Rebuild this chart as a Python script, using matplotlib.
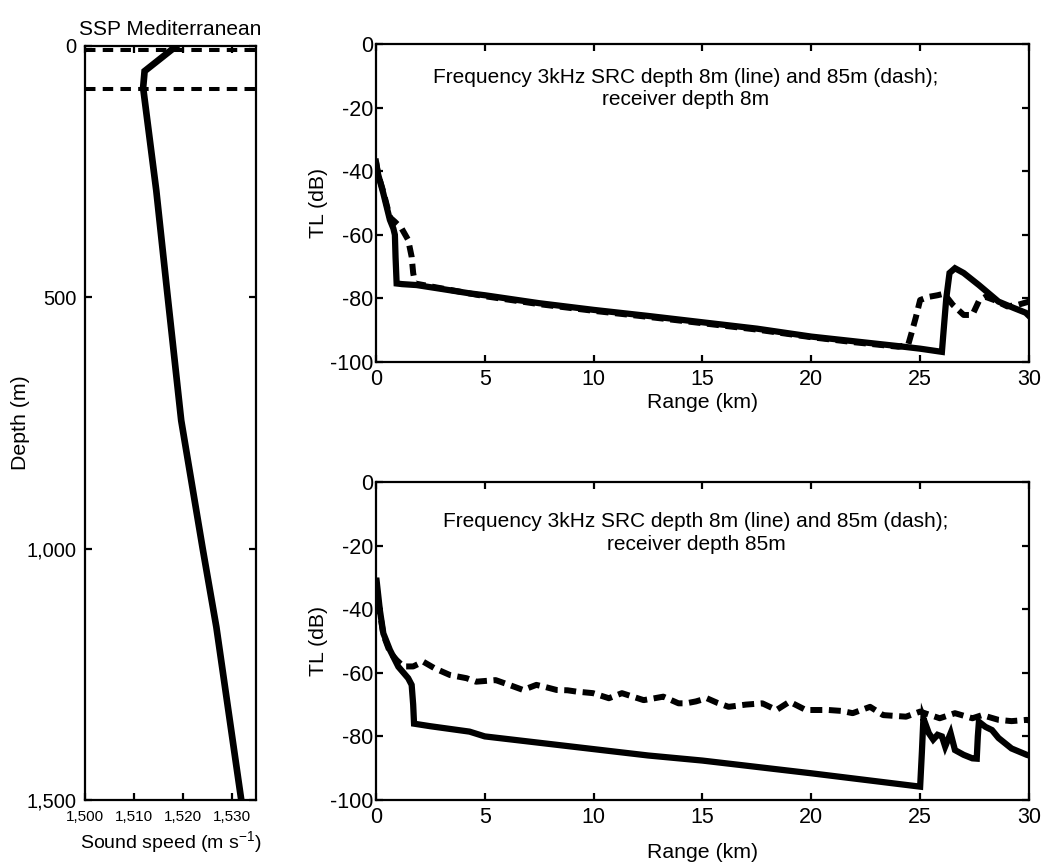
import matplotlib
matplotlib.use("Agg")
import matplotlib.pyplot as plt
from matplotlib.ticker import FuncFormatter

plt.rcParams['font.family'] = ['Liberation Sans', 'DejaVu Sans']
plt.rcParams['axes.unicode_minus'] = False

# Sound speed profile (Mediterranean)
ssp_speed = [1518.7, 1512.2, 1511.9, 1514.6, 1516.8, 1519.7, 1524.1, 1526.9, 1532.0]
ssp_depth = [0, 50, 83, 288, 487, 745, 1000, 1156, 1500]
src_depths = [8, 85]

# TL, receiver depth 8 m
r8_line = [0.0, 0.1, 0.34, 0.64, 0.8, 0.87, 0.9, 0.95, 1.2, 1.87, 3.0, 4.3, 5.0, 7.5, 10.0,
           12.5, 15.0, 17.5, 20.0, 22.0, 24.0, 25.0, 26.0, 26.08, 26.2, 26.35, 26.6, 27.0,
           27.7, 28.6, 29.3, 29.85, 30.0]
tl8_line = [-37, -41, -47, -55.3, -58, -60, -67, -75.3, -75.5, -75.8, -77, -78.4, -79, -81.5,
            -83.6, -85.5, -87.5, -89.5, -92, -93.5, -95, -95.8, -96.8, -90, -80, -72, -70.5,
            -72, -75.8, -81, -83, -84.5, -85.5]
r8_dash = [0.0, 0.1, 0.34, 0.64, 0.87, 1.18, 1.48, 1.64, 1.71, 1.8, 2.5, 5.0, 7.5, 10.0, 12.5,
           15.0, 17.5, 20.0, 22.0, 24.0, 24.45, 24.6, 24.8, 25.0, 25.4, 25.8, 26.1, 26.5, 27.0,
           27.4, 27.7, 28.0, 28.4, 29.0, 29.5, 30.0]
tl8_dash = [-37, -41, -46.5, -54.5, -55.9, -58, -61.6, -66.9, -72, -75.3, -76.2, -79.3, -81.8,
            -83.9, -85.8, -87.8, -89.8, -92.2, -93.8, -95.2, -94.6, -91, -86, -80.5, -79.5, -79,
            -78.5, -82, -85.2, -85.2, -80.8, -79.5, -80.5, -82.5, -82, -81]

# TL, receiver depth 85 m
r85_line = [0.0, 0.03, 0.18, 0.34, 0.64, 1.03, 1.48, 1.64, 1.71, 1.75, 2.5, 4.3, 5.0, 7.5,
            10.0, 12.5, 15.0, 17.5, 20.0, 22.5, 25.0, 25.08, 25.15, 25.4, 25.6, 25.8, 26.0,
            26.15, 26.4, 26.6, 27.0, 27.4, 27.6, 27.65, 27.7, 28.0, 28.3, 28.6, 29.2, 29.9, 30.0]
tl85_line = [-31, -31, -40.3, -47.6, -52.8, -58.1, -61.7, -63.8, -70, -76, -76.8, -78.5, -80,
             -82, -84, -86, -87.6, -89.6, -91.6, -93.7, -95.8, -85, -74.3, -79, -81, -79.5,
             -80, -83.2, -79, -84.3, -85.8, -86.9, -87, -80, -75.4, -77, -78, -80.5, -83.8,
             -85.8, -86]
r85_dash = [0.0, 0.18, 0.34, 0.64, 0.95, 1.26, 1.71, 2.17, 2.7, 3.4, 4.16, 4.6, 5.5, 6.2, 6.76,
            7.37, 7.8, 8.3, 8.8, 9.2, 9.97, 10.7, 11.3, 11.8, 12.3, 12.8, 13.2, 13.9, 14.25,
            14.7, 15.2, 15.7, 16.2, 17.0, 17.75, 18.4, 19.0, 19.75, 20.8, 21.4, 21.9, 22.7,
            23.3, 24.35, 25.0, 25.9, 26.6, 27.4, 27.85, 28.6, 29.2, 29.9, 30.0]
tl85_dash = [-32, -41, -48, -53.5, -56, -58, -58, -56.5, -58.6, -60.7, -61.7, -62.8, -62.3,
             -64, -65.4, -63.8, -64.5, -65.4, -65.5, -65.9, -66.4, -68, -66.4, -67.5, -68.6,
             -68, -67.5, -69.6, -69.6, -69, -68, -69.5, -70.7, -70, -69.6, -71.7, -69.1, -71.7,
             -71.7, -72, -72.7, -70.7, -73.3, -73.8, -72.2, -74.3, -72.7, -74.3, -73.3, -74.8,
             -75.2, -74.8, -75]

range_ticks = [0, 5, 10, 15, 20, 25, 30]
tl_ticks = [0, -20, -40, -60, -80, -100]
depth_ticks = [0, 500, 1000, 1500]
speed_ticks = [1500, 1510, 1520, 1530]

fig = plt.figure(figsize=(10.42, 8.63), dpi=100)
comma = FuncFormatter(lambda v, p: f"{int(v):,}")


def style(ax, labelsize=14):
    for s in ax.spines.values():
        s.set_linewidth(1.6)
    ax.tick_params(direction='in', top=True, right=True, length=5, width=1.6,
                   labelsize=labelsize, pad=2)


# SSP panel
ax0 = fig.add_axes([0.0816, 0.0730, 0.164, 0.8737])
ax0.plot(ssp_speed, ssp_depth, color='black', lw=4.8, solid_joinstyle='miter')
for d in src_depths:
    ax0.axhline(d, color='black', lw=2.9, dashes=(2.6, 1.8))
ax0.set_xlim(1500, 1535)
ax0.set_ylim(1500, 0)
ax0.set_xticks(speed_ticks)
ax0.set_yticks(depth_ticks)
ax0.xaxis.set_major_formatter(comma)
ax0.yaxis.set_major_formatter(comma)
style(ax0, 14.5)
ax0.tick_params(axis='x', labelsize=11, pad=7)
ax0.tick_params(axis='y', pad=6)
ax0.set_title('SSP Mediterranean', fontsize=15, pad=8)
ax0.set_xlabel('Sound speed (m s$^{\\mathregular{-1}}$)', fontsize=14, labelpad=4)
ax0.set_ylabel('Depth (m)', fontsize=15.3)
ax0.yaxis.set_label_coords(-0.32, 0.5)

panels = [
    ([0.3608, 0.5805, 0.6267, 0.3685], r8_line, tl8_line, r8_dash, tl8_dash,
     'Frequency 3kHz SRC depth 8m (line) and 85m (dash);\nreceiver depth 8m', 0.474, 0.86, 2),
    ([0.3608, 0.0730, 0.6267, 0.3685], r85_line, tl85_line, r85_dash, tl85_dash,
     'Frequency 3kHz SRC depth 8m (line) and 85m (dash);\nreceiver depth 85m', 0.490, 0.84, 11),
]

for rect, rl, tll, rd, tld, txt, tx, ty, lpad in panels:
    ax = fig.add_axes(rect)
    ax.plot(rd, tld, color='black', lw=4.3, dashes=(2.0, 1.1), dash_capstyle='butt')
    ax.plot(rl, tll, color='black', lw=4.5, solid_joinstyle='miter')
    ax.set_xlim(0, 30)
    ax.set_ylim(-100, 0)
    ax.set_xticks(range_ticks)
    ax.set_yticks(tl_ticks)
    style(ax, 15.5)
    ax.tick_params(axis='x', pad=5)
    ax.set_xlabel('Range (km)', fontsize=15.3, labelpad=lpad)
    ax.set_ylabel('TL (dB)', fontsize=15.3, labelpad=1)
    ax.text(tx, ty, txt, transform=ax.transAxes, ha='center', va='center',
            fontsize=15, linespacing=1.25)

fig.savefig('out.png', dpi=100)
